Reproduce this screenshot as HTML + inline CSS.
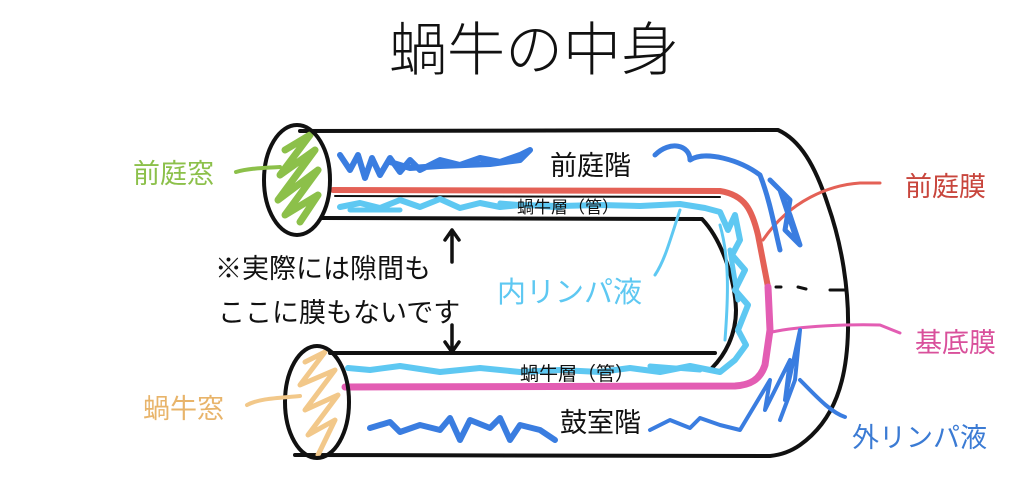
<!DOCTYPE html>
<html><head><meta charset="utf-8"><style>
html,body{margin:0;padding:0;background:#fff;}
svg{display:block}
text{font-family:"Liberation Sans","Noto Sans CJK JP",sans-serif;}
</style></head><body>
<svg width="1024" height="477" viewBox="0 0 1024 477" xmlns="http://www.w3.org/2000/svg">
<rect width="1024" height="477" fill="#fff"/>
<text x="534" y="70" font-size="58" text-anchor="middle" fill="#111" font-weight="300">蝸牛の中身</text>

<g fill="none" stroke-linecap="round" stroke-linejoin="round">
<path d="M300 131 L778 130 C800 140 815 165 828 205 C842 245 849 290 848 330 C847 380 835 420 800 445 C790 452 780 455 770 456 L295 455" stroke="#111" stroke-width="4"/>
<path d="M322 218 L702 219 C722 240 735 280 736 310 C736 335 725 355 712 368" stroke="#111" stroke-width="4"/>
<path d="M330 353 L715 353" stroke="#111" stroke-width="4"/>
<path d="M335 196 L720 197" stroke="#111" stroke-width="2"/>
<path d="M350 388 L740 387" stroke="#111" stroke-width="2"/>
<path d="M776 287 L781 287 M798 287 L806 289 M830 290 L846 290" stroke="#111" stroke-width="3"/>

<path d="M340 207 L360 203 L380 208 L400 200 L420 207 L440 199 L460 208 L480 203 L500 207 L520 205 L560 206 L600 205 L640 206 L680 204 L705 208 L720 212 L728 230 L735 215 L740 240 L732 255 L745 270 L735 290 L748 305 L738 330 L746 345 L735 360 L720 372 L690 366 L660 372 L630 368 L600 372 L560 370 L520 372 L480 368 L440 372 L400 366 L370 370 L348 368" stroke="#5ec8f2" stroke-width="6"/>
<path d="M350 210 L400 210 M500 203 L560 208 M650 366 L700 370 M730 250 L738 300" stroke="#5ec8f2" stroke-width="5"/>
<path d="M680 210 C670 240 665 260 655 275" stroke="#5ec8f2" stroke-width="3"/>
<path d="M720 225 C730 260 728 300 725 340" stroke="#5ec8f2" stroke-width="3"/>
<path d="M333 190 L720 191 C745 195 752 210 758 235 L768 287" stroke="#e46156" stroke-width="6"/>
<path d="M763 240 C790 200 830 185 860 183 L880 183" stroke="#e46156" stroke-width="3"/>
<path d="M768 287 L770 330 L765 365 C760 380 750 385 735 386 L345 387" stroke="#e35db3" stroke-width="7"/>
<path d="M772 332 C800 326 850 324 880 325 L900 333" stroke="#e35db3" stroke-width="3"/>
<path d="M340 155 L350 170 L358 155 L365 178 L372 158 L380 175 L390 158 L400 172 L410 160 L420 170 L440 160 L460 165 L480 158 L500 162 L520 155 L530 150 L520 160 L490 164 L440 166 L410 168 L390 162" stroke="#3a7de0" stroke-width="6"/>
<path d="M655 155 C670 140 690 145 690 160 C705 150 740 160 760 175 C770 200 775 230 780 250 M770 180 L790 200 L785 230 L800 245 L790 215 L780 190 L795 235" stroke="#3a7de0" stroke-width="5"/>
<path d="M370 428 L390 422 L400 432 L420 425 L440 430 L450 418 L460 440 L470 420 L490 428 L500 418 L510 440 L520 425 L540 430 L555 440" stroke="#3a7de0" stroke-width="6"/>
<path d="M650 430 L670 420 L690 428 L700 418 L720 425 L740 430 L755 405 L770 380 L765 410 L790 360 L785 400 L800 330 L795 380 L780 420 M800 380 C815 395 830 412 845 417" stroke="#3a7de0" stroke-width="4"/>
<path d="M285 150 L310 135 L280 175 L315 150 L278 200 L318 170 L285 215 L318 195 L300 222" stroke="#8cc04a" stroke-width="7"/>
<ellipse cx="297" cy="180" rx="33" ry="55" stroke="#111" stroke-width="4"/>
<path d="M305 362 L325 352 L300 385 L335 370 L305 410 L338 395 L308 435 L335 420 L318 455" stroke="#f2c88a" stroke-width="5"/>
<ellipse cx="317" cy="402" rx="32" ry="56" stroke="#111" stroke-width="4"/>
<path d="M236 172 C250 168 265 168 280 167" stroke="#8cc04a" stroke-width="4"/>
<path d="M247 405 C260 398 280 398 300 396" stroke="#f2c88a" stroke-width="4"/>
<path d="M452 262 L452 230 M445 240 L452 230 L459 240" stroke="#111" stroke-width="3.5"/>
<path d="M452 325 L452 352 M445 342 L452 352 L459 342" stroke="#111" stroke-width="3.5"/>
</g>

<g font-size="27">
<text x="133" y="183" fill="#8cc04a">前庭窓</text>
<text x="143" y="418" fill="#e8b46a">蝸牛窓</text>
<text x="215" y="278" fill="#111">※実際には隙間も</text>
<text x="218" y="322" fill="#111">ここに膜もないです</text>
<text x="550" y="175" fill="#111">前庭階</text>
<text x="560" y="432" fill="#111">鼓室階</text>
<text x="497" y="302" fill="#5ec8f2" font-size="29">内リンパ液</text>
<text x="905" y="196" fill="#c8453c">前庭膜</text>
<text x="915" y="352" fill="#d9509b">基底膜</text>
<text x="852" y="447" fill="#3b7bd4">外リンパ液</text>
</g>
<text x="517" y="213" font-size="17" fill="#111">蝸牛層（管）</text>
<text x="520" y="380" font-size="19" fill="#111">蝸牛層（管）</text>
</svg>
</body></html>
